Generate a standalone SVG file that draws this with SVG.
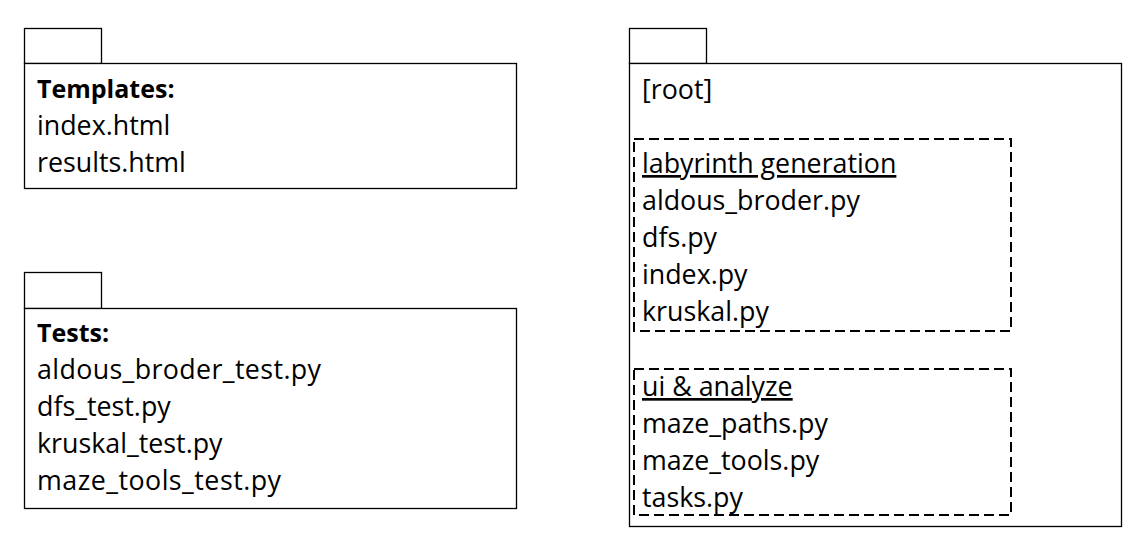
<svg xmlns="http://www.w3.org/2000/svg" width="1144" height="546" viewBox="0 0 1144 546">
<style>
.pk{fill:#fff;stroke:#000;stroke-width:1.3}
.dash{fill:none;stroke:#000;stroke-width:2;stroke-dasharray:10 5}
text{font-family:"Open Sans",Lato,sans-serif;font-size:26.8px;fill:#000}
.b{font-weight:bold;font-size:25px}
.u{text-decoration:underline}
</style>
<rect width="1144" height="546" fill="#fff"/>
<g id="templates">
<rect class="pk" x="24.5" y="28.5" width="77" height="35"/>
<rect class="pk" x="24.5" y="63.5" width="492" height="125"/>
<text class="b" x="37" y="98">Templates:</text>
<text x="37" y="135">index.html</text>
<text x="37" y="172">results.html</text>
</g>
<g id="tests">
<rect class="pk" x="24.5" y="272.5" width="77" height="36"/>
<rect class="pk" x="24.5" y="308.5" width="492" height="200"/>
<text class="b" x="37" y="342">Tests:</text>
<text x="37" y="379" textLength="284">aldous_broder_test.py</text>
<text x="37" y="416">dfs_test.py</text>
<text x="37" y="453">kruskal_test.py</text>
<text x="37" y="490" textLength="244">maze_tools_test.py</text>
</g>
<g id="root">
<rect class="pk" x="629.5" y="28.5" width="77" height="35"/>
<rect class="pk" x="629.5" y="63.5" width="492" height="463"/>
<text x="642" y="99">[root]</text>
</g>
<g id="labyrinth-generation">
<rect class="dash" x="634" y="139" width="377" height="192"/>
<text class="u" x="642" y="173">labyrinth generation</text>
<text x="642" y="210">aldous_broder.py</text>
<text x="642" y="247">dfs.py</text>
<text x="642" y="284">index.py</text>
<text x="642" y="321">kruskal.py</text>
</g>
<g id="ui-analyze">
<rect class="dash" x="634" y="369" width="377" height="146"/>
<text class="u" x="642" y="396">ui &amp; analyze</text>
<text x="642" y="433">maze_paths.py</text>
<text x="642" y="470">maze_tools.py</text>
<text x="642" y="507">tasks.py</text>
</g>
<g id="connectors"/>
</svg>
